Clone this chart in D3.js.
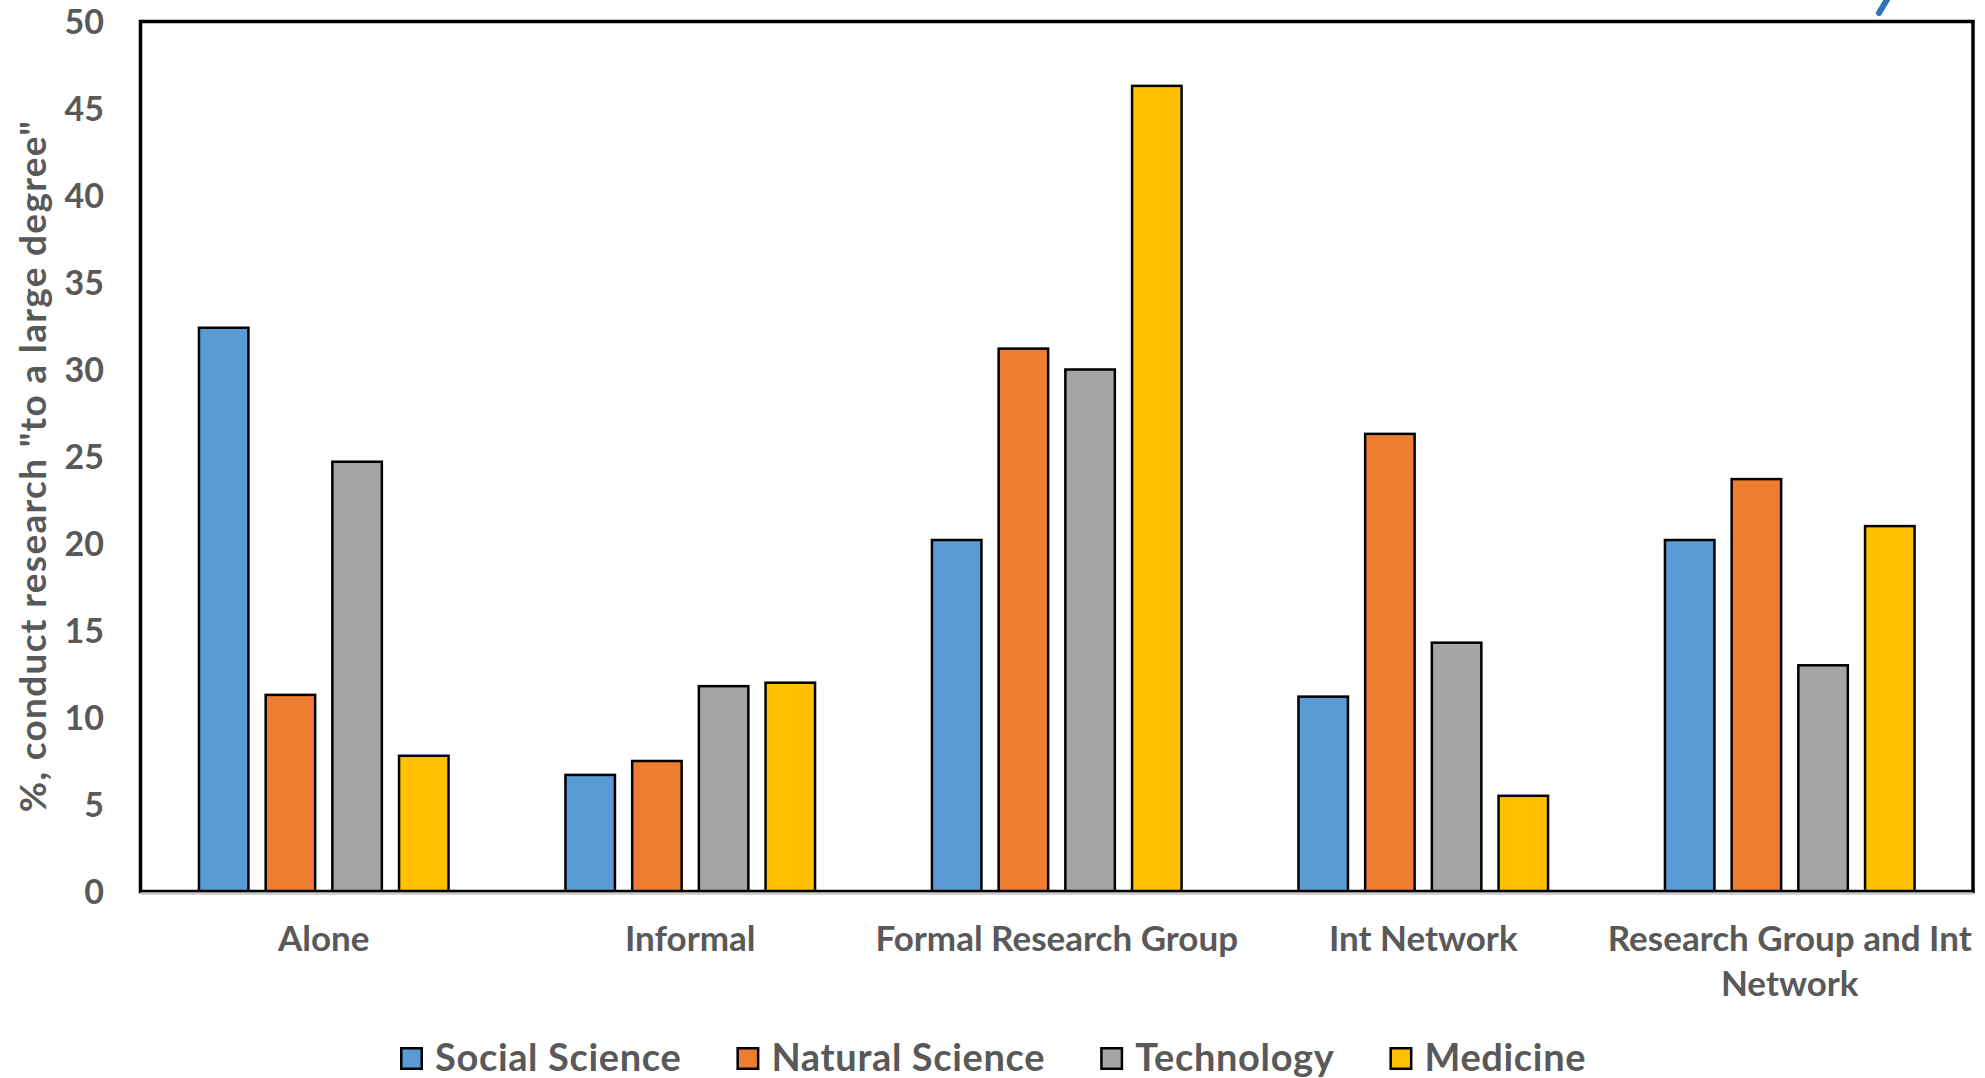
<!DOCTYPE html>
<html>
<head>
<meta charset="utf-8">
<script src="https://cdn.jsdelivr.net/npm/d3@7"></script>
<style>
  html, body { margin: 0; padding: 0; background: #ffffff; }
  svg { display: block; }
  text { font-family: Lato, "Open Sans", sans-serif; font-weight: 700; fill: #595959; }
</style>
</head>
<body>
<script>
// ---- data ----
const categories = ["Alone", "Informal", "Formal Research Group", "Int Network", "Research Group and Int Network"];
const seriesNames = ["Social Science", "Natural Science", "Technology", "Medicine"];
const socialScience  = [32.4, 6.7, 20.2, 11.2, 20.2];
const naturalScience = [11.3, 7.5, 31.2, 26.3, 23.7];
const technology     = [24.7, 11.8, 30.0, 14.3, 13.0];
const medicine       = [7.8, 12.0, 46.3, 5.5, 21.0];
const yTicks = [0, 5, 10, 15, 20, 25, 30, 35, 40, 45, 50];
const yTitle = '%, conduct research "to a large degree"';
const colors = ["#5B9BD5", "#ED7D31", "#A5A5A5", "#FFC000"];

const seriesValues = [socialScience, naturalScience, technology, medicine];

const W = 1985, H = 1078;
const plot = { left: 140.5, right: 1973, top: 21.5, bottom: 891.5 };

const svg = d3.select("body").append("svg").attr("width", W).attr("height", H);

const x0 = d3.scaleBand().domain(categories).range([plot.left, plot.right]).paddingInner(0).paddingOuter(0);
const groupW = x0.bandwidth() * 0.681;
const x1 = d3.scaleBand().domain(seriesNames)
  .range([(x0.bandwidth() - groupW) / 2, (x0.bandwidth() + groupW) / 2])
  .paddingInner(0.258).paddingOuter(0);
const y = d3.scaleLinear().domain([0, 50]).range([plot.bottom, plot.top]);

// decorative fragment at top right
svg.append("path")
  .attr("d", "M1888,-2 L1879,13")
  .attr("stroke", "#2E75B6").attr("stroke-width", 6).attr("stroke-linecap", "round").attr("fill", "none");

// bars
const groups = svg.append("g").selectAll("g")
  .data(categories)
  .join("g")
  .attr("transform", d => `translate(${x0(d)},0)`);

groups.selectAll("rect")
  .data((c, ci) => seriesNames.map((s, si) => ({ s, si, v: seriesValues[si][ci] })))
  .join("rect")
  .attr("x", d => x1(d.s))
  .attr("width", x1.bandwidth())
  .attr("y", d => y(d.v))
  .attr("height", d => y(0) - y(d.v))
  .attr("fill", d => colors[d.si])
  .attr("stroke", "#000")
  .attr("stroke-width", 2.5);

// plot frame
svg.append("rect")
  .attr("x", plot.left).attr("y", plot.top)
  .attr("width", plot.right - plot.left).attr("height", plot.bottom - plot.top)
  .attr("fill", "none").attr("stroke", "#000").attr("stroke-width", 3.5);

// gray category axis line
svg.append("line")
  .attr("x1", plot.left).attr("x2", plot.right)
  .attr("y1", plot.bottom + 2).attr("y2", plot.bottom + 2)
  .attr("stroke", "#C8C8C8").attr("stroke-width", 2.5);

// y axis (labels only)
const yAxis = d3.axisLeft(y).tickValues(yTicks).tickSize(0).tickPadding(0).tickFormat(d3.format("d"));
const yg = svg.append("g").attr("transform", `translate(104,0)`).call(yAxis);
yg.select(".domain").remove();
yg.selectAll("text")
  .attr("font-family", "Lato, sans-serif").attr("font-weight", 700)
  .attr("font-size", 34).attr("fill", "#595959").attr("dy", "0.36em");

// y title
svg.append("text")
  .attr("transform", "translate(46,466) rotate(-90)")
  .attr("text-anchor", "middle")
  .attr("font-size", 37)
  .attr("letter-spacing", 1.3)
  .text(yTitle);

// x axis labels with wrapping
const xAxis = d3.axisBottom(x0).tickSize(0).tickPadding(0);
const xg = svg.append("g").attr("transform", `translate(0,${plot.bottom})`).call(xAxis);
xg.select(".domain").remove();
xg.selectAll("text")
  .attr("font-family", "Lato, sans-serif").attr("font-weight", 700)
  .attr("font-size", 35).attr("fill", "#595959")
  .attr("y", 0).attr("dy", 0)
  .each(function(d) {
    const t = d3.select(this);
    const words = d.split(" ");
    t.text(null);
    let line = [];
    let lineNo = 0;
    let tspan = t.append("tspan").attr("x", 0).attr("y", 59);
    for (const w of words) {
      line.push(w);
      tspan.text(line.join(" "));
      if (tspan.node().getComputedTextLength() > x0.bandwidth() - 2 && line.length > 1) {
        line.pop();
        tspan.text(line.join(" "));
        line = [w];
        lineNo++;
        tspan = t.append("tspan").attr("x", 0).attr("y", 59 + lineNo * 45).text(w);
      }
    }
  });

// legend
const legend = svg.append("g").attr("transform", "translate(400,1047)");
let lx = 0;
seriesNames.forEach((s, i) => {
  const g = legend.append("g").attr("transform", `translate(${lx},0)`);
  g.append("rect").attr("x", 1.25).attr("y", 1.25).attr("width", 20.5).attr("height", 20.5)
    .attr("fill", colors[i]).attr("stroke", "#000").attr("stroke-width", 2.5);
  const t = g.append("text").attr("x", 35).attr("y", 24).attr("font-size", 38)
    .attr("letter-spacing", 0.65).text(s);
  lx += 35 + t.node().getComputedTextLength() + 55;
});
</script>
</body>
</html>
